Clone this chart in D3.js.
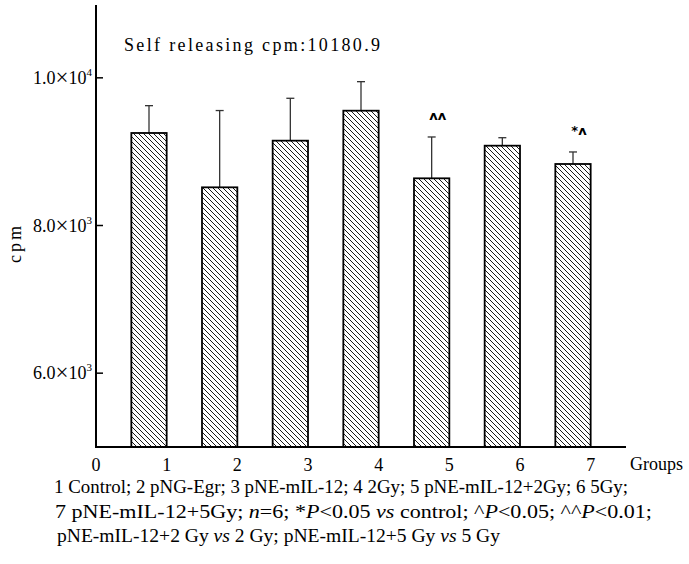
<!DOCTYPE html>
<html>
<head>
<meta charset="utf-8">
<script src="https://cdn.jsdelivr.net/npm/d3@7"></script>
<style>
  body { margin: 0; background: #fff; }
  svg { font-family: "Liberation Serif", "Times New Roman", serif; }
</style>
</head>
<body>
<svg id="chart" width="689" height="564"></svg>
<script>
// data
const groups = [1, 2, 3, 4, 5, 6, 7];
const means = [9253, 8517, 9149, 9555, 8639, 9081, 8833];
const sds = [370, 1040, 574, 393, 560, 108, 163];
const marks = ["", "", "", "", "\u028c\u028c", "", "*\u028c"];
const xTicks = [0, 1, 2, 3, 4, 5, 6, 7];
const yTicks = [6000, 8000, 10000];
const yTickMantissa = ["6.0", "8.0", "1.0"];
const yTickExp = ["3", "3", "4"];

const svg = d3.select("#chart");

const x = d3.scaleLinear().domain([0, 7.5]).range([96, 626]);
const y = d3.scaleLinear().domain([5000, 11000]).range([447, 4]);

// hatch pattern
const defs = svg.append("defs");
const pat = defs.append("pattern")
    .attr("id", "hatch")
    .attr("patternUnits", "userSpaceOnUse")
    .attr("width", 5)
    .attr("height", 5);
pat.append("rect").attr("width", 5).attr("height", 5).attr("fill", "#fff");
pat.append("path")
    .attr("d", "M0,0L5,5M-1,4L1,6M4,-1L6,1")
    .attr("stroke", "#000")
    .attr("stroke-width", 0.9);

const data = groups.map((g, i) => ({ g: g, mean: means[i], sd: sds[i], mark: marks[i] }));
const barW = x(0.5) - x(0);

// error bars (upper only)
const err = svg.append("g").attr("stroke", "#333").attr("stroke-width", 1.3);
data.forEach(d => {
    const cx = x(d.g - 0.25);
    err.append("line").attr("x1", cx).attr("x2", cx).attr("y1", y(d.mean)).attr("y2", y(d.mean + d.sd));
    err.append("line").attr("x1", cx - 4).attr("x2", cx + 4).attr("y1", y(d.mean + d.sd)).attr("y2", y(d.mean + d.sd));
});

// bars
svg.selectAll(".bar")
    .data(data)
    .enter()
    .append("rect")
    .attr("class", "bar")
    .attr("x", d => x(d.g - 0.5))
    .attr("y", d => y(d.mean))
    .attr("width", barW)
    .attr("height", d => y(5000) - y(d.mean))
    .attr("fill", "url(#hatch)")
    .attr("stroke", "#000")
    .attr("stroke-width", 1.8);

// significance marks
svg.selectAll(".mark")
    .data(data.filter(d => d.mark))
    .enter()
    .append("text")
    .attr("x", d => x(d.g - 0.25) + 6)
    .attr("y", d => y(d.mean + d.sd) - 17)
    .attr("text-anchor", "middle")
    .attr("font-family", "DejaVu Sans, sans-serif")
    .attr("font-size", 13)
    .attr("font-weight", "bold")
    .text(d => d.mark);

// axes
svg.append("line").attr("x1", x(0)).attr("x2", x(0)).attr("y1", y(11000) + 1).attr("y2", y(5000) + 1)
    .attr("stroke", "#000").attr("stroke-width", 2);
svg.append("line").attr("x1", x(0) - 1).attr("x2", x(7.5)).attr("y1", y(5000)).attr("y2", y(5000))
    .attr("stroke", "#000").attr("stroke-width", 2);

// y ticks (inward)
const yt = svg.append("g");
yTicks.forEach((v, i) => {
    yt.append("line").attr("x1", x(0)).attr("x2", x(0) + 7).attr("y1", y(v)).attr("y2", y(v))
        .attr("stroke", "#000").attr("stroke-width", 1.5);
    const t = yt.append("text")
        .attr("x", x(0) - 4)
        .attr("y", y(v) + 6)
        .attr("text-anchor", "end")
        .attr("font-size", 18);
    t.append("tspan").text(yTickMantissa[i]);
    t.append("tspan").attr("font-size", 23).attr("dy", 1).text("\u00d7");
    t.append("tspan").attr("dy", -1).text("10");
    t.append("tspan").attr("font-size", 11).attr("dy", -8).text(yTickExp[i]);
});

// x tick labels
svg.selectAll(".xt")
    .data(xTicks)
    .enter()
    .append("text")
    .attr("x", d => x(d))
    .attr("y", 471)
    .attr("text-anchor", "middle")
    .attr("font-size", 18)
    .text(d => d);

svg.append("text").attr("x", 630).attr("y", 470).attr("font-size", 18).text("Groups");

// y label
svg.append("text")
    .attr("transform", `translate(21,243) rotate(-90)`)
    .attr("text-anchor", "middle")
    .attr("font-size", 18)
    .attr("letter-spacing", 3)
    .text("cpm");

// inner title
svg.append("text")
    .attr("x", 124)
    .attr("y", 51)
    .attr("font-size", 18)
    .attr("textLength", 256)
    .attr("lengthAdjust", "spacing")
    .text("Self releasing cpm:10180.9");

// caption
const cap = [
    [["1 Control; 2 pNG-Egr; 3 pNE-mIL-12; 4 2Gy; 5 pNE-mIL-12+2Gy; 6 5Gy;", false]],
    [["7 pNE-mIL-12+5Gy; ", false], ["n", true], ["=6; *", false], ["P", true], ["<0.05 ", false], ["vs", true],
     [" control; ^", false], ["P", true], ["<0.05; ^^", false], ["P", true], ["<0.01;", false]],
    [["pNE-mIL-12+2 Gy ", false], ["vs", true], [" 2 Gy; pNE-mIL-12+5 Gy ", false], ["vs", true], [" 5 Gy", false]]
];
const capX = [54, 55, 57];
const capY = [493, 518, 542];
const capLen = [574, 597, 443];
cap.forEach((parts, i) => {
    const t = svg.append("text")
        .attr("x", capX[i])
        .attr("y", capY[i])
        .attr("font-size", 18)
        .attr("textLength", capLen[i])
        .attr("lengthAdjust", "spacingAndGlyphs");
    parts.forEach(p => {
        t.append("tspan").attr("font-style", p[1] ? "italic" : null).text(p[0]);
    });
});
</script>
</body>
</html>
